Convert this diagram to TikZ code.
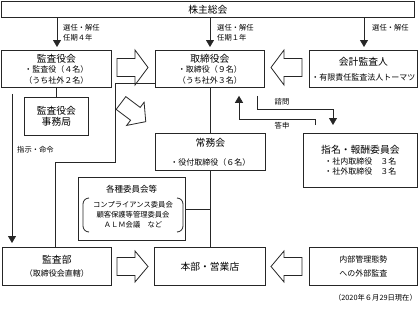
\documentclass[tikz,border=0pt]{standalone}
\usepackage{fontspec}
\setmainfont{Noto Sans CJK JP}
\usetikzlibrary{arrows.meta}
\newcommand\ttlf{\fontsize{9.8}{10.5}\selectfont}
\newcommand\dtlf{\fontsize{8}{10.5}\selectfont}
\newcommand\lblf{\fontsize{7.3}{9}\selectfont}
\tikzset{
  x=1pt, y=-1pt,
  box/.style={draw=black!85, line width=0.8pt, fill=white, inner sep=0pt, align=center, anchor=north west, font=\dtlf},
  conn/.style={draw=black!85, line width=0.8pt},
  arr/.style={conn, -{Triangle[width=8pt,length=7pt]}},
  lbl/.style={font=\lblf, inner sep=0pt},
  barrow/.style={draw=black!85, line width=0.8pt, fill=white},
  pics/blockarrow/.style 2 args={code={\draw[barrow] (0,-#2) -- (18,-#2) -- (18,-#1) -- (31,0) -- (18,#1) -- (18,#2) -- (0,#2) -- cycle;}},
}
\begin{document}
\begin{tikzpicture}
\useasboundingbox[fill=white] (0,0) rectangle (420,311);
% boxes
\node[box, minimum width=413pt, minimum height=16pt, font=\ttlf] (kabu) at (1,1) {株主総会};
\node[box, minimum width=110pt, minimum height=37pt] (kansayaku) at (1,50) {{\ttlf 監査役会}\\・監査役（４名）\\（うち社外２名）};
\node[box, minimum width=109pt, minimum height=37pt] (torishimari) at (155,50) {{\ttlf 取締役会}\\・取締役（９名）\\（うち社外３名）};
\node[box, minimum width=108pt, minimum height=37pt] (kaikei) at (309,50) {{\ttlf 会計監査人}\\[4.5pt]・有限責任監査法人トーマツ};
\node[box, minimum width=64pt, minimum height=38pt, font=\fontsize{9.8}{10.5}\selectfont] (jimu) at (24,97) {監査役会\\事務局};
\node[box, minimum width=110pt, minimum height=37pt] (jomu) at (155,133) {{\ttlf 常務会}\\[8.5pt]・役付取締役（６名）};
\node[box, minimum width=114pt, minimum height=54pt] (shimei) at (303,133) {{\ttlf 指名・報酬委員会}\\・社内取締役\quad ３名\\・社外取締役\quad ３名};
\node[box, minimum width=107pt, minimum height=63pt] (kakushu) at (78,177) {};
\node[font=\fontsize{8.5}{10}\selectfont, inner sep=0pt] (kakushu-t) at (131.5,189) {各種委員会等};
\node[font=\fontsize{7.3}{10}\selectfont, inner sep=0pt, align=center] (kakushu-l) at (133,215) {コンプライアンス委員会\\顧客保護等管理委員会\\ＡＬＭ会議\quad など};
\draw[conn, rounded corners=6pt] (89,198) -- (83,198) -- (83,232) -- (89,232);
\draw[conn, rounded corners=6pt] (177,198) -- (183,198) -- (183,232) -- (177,232);
\node[box, minimum width=109pt, minimum height=38pt] (kansabu) at (2,247) {{\ttlf 監査部}\\[2.5pt]（取締役会直轄）};
\node[box, minimum width=111pt, minimum height=38pt, font=\ttlf] (honbu) at (154,247) {本部・営業店};
\node[box, minimum width=108pt, minimum height=38pt] (gaibu) at (309,247) {内部管理態勢\\[3.5pt]への外部監査};
% block arrows
\pic at (117,67.5) {blockarrow={17.5}{9}};
\pic[rotate=180] at (302,67.5) {blockarrow={17.5}{9}};
\pic[rotate=-37] at (121,103) {blockarrow={14.5}{8}};
\pic at (117,266.5) {blockarrow={15.5}{9}};
\pic[rotate=180] at (302,266.5) {blockarrow={15.5}{9}};
% connectors from shareholders
\draw[arr, shorten >=3pt] (kabu.south -| 57,0) -- (kansayaku.north -| 57,0);
\draw[arr, shorten >=3pt] (kabu.south -| 210,0) -- (torishimari.north -| 210,0);
\draw[arr, shorten >=3pt] (kabu.south -| 364,0) -- (kaikei.north -| 364,0);
\node[lbl, anchor=west] (l1) at (63,28) {選任・解任};
\node[lbl, anchor=west] (l2) at (63,38) {任期４年};
\node[lbl, anchor=west] (l3) at (217,28) {選任・解任};
\node[lbl, anchor=west] (l4) at (217,38) {任期１年};
\node[lbl, anchor=west] (l5) at (372,28) {選任・解任};
% other connectors
\draw[conn] (kansayaku.south -| jimu.north) -- (jimu.north);
\draw[arr, shorten <=6pt, shorten >=4pt] (kansayaku.south -| 12,0) -- (kansabu.north -| 12,0);
\node[lbl, anchor=west] (l6) at (17,150) {指示・命令};
\draw[conn] (torishimari.west |- 0,83) -- (115,83) -- (115,162) -- (55,162) -- (kansabu.north -| 55,0);
\draw[conn] (torishimari.south -| 210,0) -- (jomu.north -| 210,0);
\draw[conn] (jomu.south -| 210,0) -- (honbu.north -| 210,0);
\draw[conn] (kakushu.east |- 0,209) -- (210,209);
\draw[arr, shorten <=8pt, shorten >=8pt] (torishimari.south -| 257,0) |- (333,109) -- (shimei.north -| 333,0);
\draw[arr, shorten <=8pt, shorten >=8pt] (shimei.north -| 315,0) |- (239,119) -- (torishimari.south -| 239,0);
\node[lbl] (l7) at (282,102) {諮問};
\node[lbl] (l8) at (282,126) {答申};
\node[lbl, anchor=east] (date) at (417,298) {（2020年６月29日現在）};
\end{tikzpicture}
\end{document}
